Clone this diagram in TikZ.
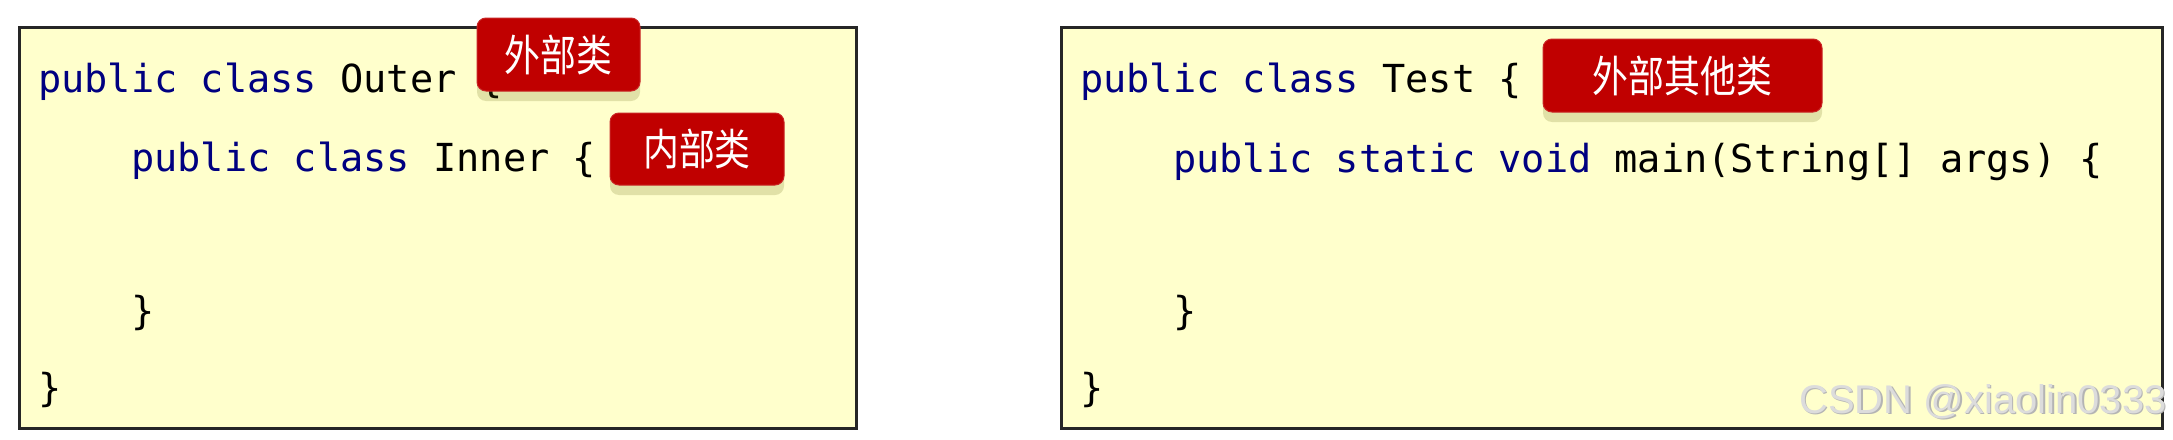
\documentclass[tikz,border=0pt]{standalone}
\usepackage{fontspec}
\usepackage{graphicx}
\setmonofont{DejaVu Sans Mono}
\setsansfont{Liberation Sans}
\newfontfamily\cjk{Noto Sans CJK SC}
\usetikzlibrary{shadows}
\definecolor{paper}{HTML}{FFFFCC}
\definecolor{kw}{HTML}{000080}
\definecolor{badgered}{HTML}{C00000}
\definecolor{shade}{HTML}{5A5A00}
\definecolor{wmark}{HTML}{DCDCDC}
\definecolor{wmshade}{HTML}{B4B4B4}
\newcommand{\tallcjk}[1]{\scalebox{0.97}[1.17]{#1}}
\begin{document}
\begin{tikzpicture}[x=1pt,y=1pt,
  codebox/.style={draw=black!85, line width=3pt, fill=paper, anchor=north west, inner sep=0pt},
  code/.style={anchor=base west, inner sep=0pt, font=\fontsize{38.6}{46}\selectfont\ttfamily},
  badge/.style={fill=badgered, draw=badgered!85!white, line width=1pt, rounded corners=9pt,
    text=white, font=\fontsize{37}{40}\selectfont\cjk, inner sep=0pt,
    general shadow={fill=shade, fill opacity=0.18, draw=none, shadow yshift=-10pt}},
  wmtext/.style={anchor=base east, inner sep=0pt, font=\fontsize{40}{44}\selectfont\sffamily}
]
\useasboundingbox[fill=white] (0,0) rectangle (2173,-439);

% boxes
\node[codebox, minimum width=837pt, minimum height=401pt] (leftbox) at (18,-26) {};
\node[codebox, minimum width=1101pt, minimum height=401pt] (rightbox) at (1060,-26) {};

% left code
\node[code] (l1) at (38,-92) {\textcolor{kw}{public class} Outer \{};
\node[code] (l2) at (131,-171) {\textcolor{kw}{public class} Inner \{};
\node[code] (l3) at (131,-324) {\}};
\node[code] (l4) at (38,-401) {\}};

% right code
\node[code] (r1) at (1080,-92) {\textcolor{kw}{public class} Test \{};
\node[code] (r2) at (1173,-172) {\textcolor{kw}{public static void} main(String[] args) \{};
\node[code] (r3) at (1173,-324) {\}};
\node[code] (r4) at (1080,-401) {\}};

% badges
\node[badge, minimum width=163pt, minimum height=73pt] (b1) at (558.5,-54.5) {\tallcjk{外部类}};
\node[badge, minimum width=174pt, minimum height=72pt] (b2) at (697,-149) {\tallcjk{内部类}};
\node[badge, minimum width=279pt, minimum height=73pt] (b3) at (1682.5,-75.5) {\tallcjk{外部其他类}};

% watermark
\node[wmtext, text=wmshade] (wms) at (2168.5,-414.5) {CSDN @xiaolin0333};
\node[wmtext, text=wmark] (wm) at (2167,-413) {CSDN @xiaolin0333};
\end{tikzpicture}
\end{document}
